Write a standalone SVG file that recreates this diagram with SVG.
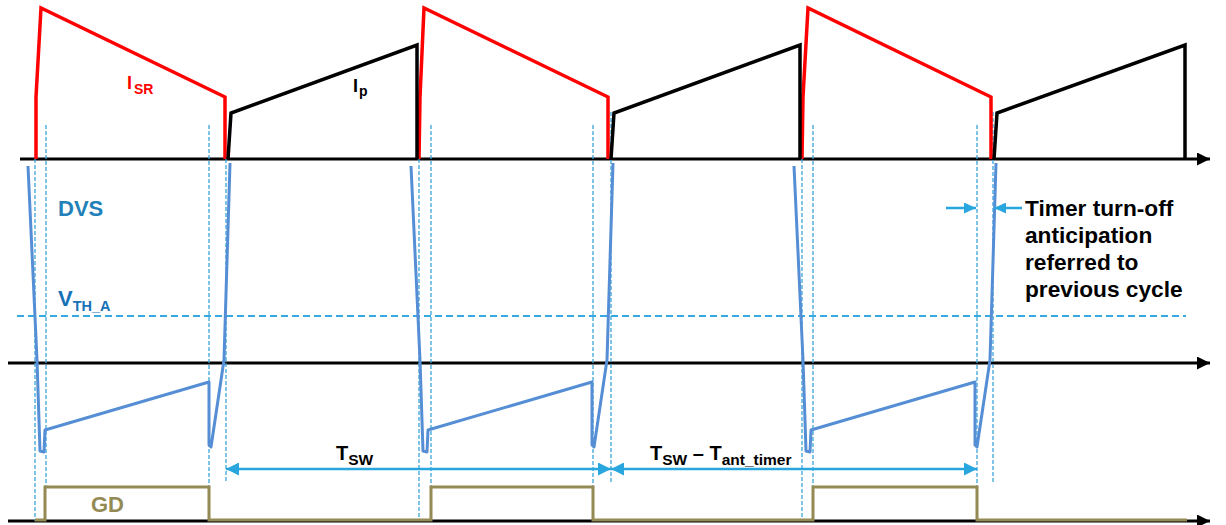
<svg xmlns="http://www.w3.org/2000/svg" width="1226" height="525" viewBox="0 0 1226 525">
<defs>
<style>
.axis{stroke:#000;stroke-width:3;fill:none}
.isr{stroke:#ff0000;stroke-width:3.5;fill:none;stroke-linejoin:miter}
.ip{stroke:#000;stroke-width:3.5;fill:none;stroke-linejoin:miter}
.dvs{stroke:#558ed5;stroke-width:3;fill:none;stroke-linejoin:round}
.gd{stroke:#948a54;stroke-width:3;fill:none}
.vd{stroke:#3aa6dc;stroke-width:1.3;stroke-dasharray:4 2;fill:none}
.th{stroke:#35a9e0;stroke-width:2;stroke-dasharray:7 4;fill:none}
.arr{stroke:#2aa6de;stroke-width:2.5;fill:none}
text{font-family:"Liberation Sans",Arial,sans-serif;font-weight:bold}
</style>
<marker id="ah" markerUnits="userSpaceOnUse" viewBox="0 0 13 13" refX="13" refY="6.5" markerWidth="13" markerHeight="13" orient="auto">
<path d="M0,0 L13,6.5 L0,13 z" fill="#000"/>
</marker>
<marker id="bh" markerUnits="userSpaceOnUse" viewBox="0 0 13 13" refX="13" refY="6.5" markerWidth="13" markerHeight="13" orient="auto-start-reverse">
<path d="M0,0 L13,6.5 L0,13 z" fill="#2aa6de"/>
</marker>
<marker id="sh" markerUnits="userSpaceOnUse" viewBox="0 0 12 11" refX="12" refY="5.5" markerWidth="12" markerHeight="11" orient="auto">
<path d="M0,0 L12,5.5 L0,11 z" fill="#2aa6de"/>
</marker>
</defs>

<g id="axes">
<line class="axis" x1="20" y1="159" x2="1210" y2="159" marker-end="url(#ah)"/>
<line class="axis" x1="8" y1="363" x2="1210" y2="363" marker-end="url(#ah)"/>
<line class="axis" x1="8" y1="521" x2="1210" y2="521" marker-end="url(#ah)"/>
</g>

<g id="vdashes">
<line class="vd" x1="35" y1="159" x2="35" y2="521"/>
<line class="vd" x1="46" y1="125" x2="46" y2="487"/>
<line class="vd" x1="209" y1="125" x2="209" y2="521"/>
<line class="vd" x1="226" y1="159" x2="226" y2="482"/>
<line class="vd" x1="419" y1="159" x2="419" y2="521"/>
<line class="vd" x1="431" y1="125" x2="431" y2="487"/>
<line class="vd" x1="593" y1="125" x2="593" y2="521"/>
<line class="vd" x1="611" y1="112" x2="611" y2="482"/>
<line class="vd" x1="802" y1="159" x2="802" y2="521"/>
<line class="vd" x1="813" y1="125" x2="813" y2="487"/>
<line class="vd" x1="977" y1="125" x2="977" y2="521"/>
<line class="vd" x1="993" y1="112" x2="993" y2="482"/>
</g>

<g id="vth">
<line class="th" x1="17" y1="316" x2="1186" y2="316"/>
</g>

<g id="isr">
<path class="isr" d="M36,159 L36,97 L41,8 L225,97 L225,159"/>
<path class="isr" d="M419,159 L420,97 L424,8 L608,97 L608,159"/>
<path class="isr" d="M802,159 L803,97 L808,8 L991,97 L991,159"/>
</g>

<g id="ip">
<path class="ip" d="M228,159 L231,113 L417,45 L417,159"/>
<path class="ip" d="M611,159 L614,113 L800,45 L800,159"/>
<path class="ip" d="M994,159 L997,113 L1185,45 L1185,159"/>
</g>

<g id="dvs">
<path class="dvs" d="M28,166 L37,360 L40,451 L44,452 L45,430 L209,382 L209,445 L211,447 L224,360 L230,163"/>
<path class="dvs" transform="translate(383,0)" d="M28,166 L37,360 L40,451 L44,452 L45,430 L209,382 L209,445 L211,447 L224,360 L230,163"/>
<path class="dvs" transform="translate(766,0)" d="M28,166 L37,360 L40,451 L44,452 L45,430 L209,382 L209,445 L211,447 L224,360 L230,163"/>
</g>

<g id="gd">
<path class="gd" d="M35,520 L45,520 L45,487 L209,487 L209,520 L431,520 L431,487 L593,487 L593,520 L813,520 L813,487 L977,487 L977,520 L1187,520"/>
</g>

<g id="connectors">
<line class="arr" x1="226" y1="469" x2="611" y2="469" marker-start="url(#bh)" marker-end="url(#bh)"/>
<line class="arr" x1="611" y1="469" x2="977" y2="469" marker-start="url(#bh)" marker-end="url(#bh)"/>
<line class="arr" x1="946" y1="208" x2="976" y2="208" marker-end="url(#sh)"/>
<line class="arr" x1="1022" y1="208" x2="994" y2="208" marker-end="url(#sh)"/>
</g>

<g id="labels">
<text x="127" y="89" font-size="18" fill="#ff0000">I<tspan font-size="14" dx="2" dy="5">SR</tspan></text>
<text x="353" y="92" font-size="18" fill="#000">I<tspan font-size="14" dx="1" dy="4">p</tspan></text>
<text x="58" y="216" font-size="22" fill="#2281b8">DVS</text>
<text x="58" y="306" font-size="22" fill="#1872b8">V<tspan font-size="14.5" dy="5">TH_A</tspan></text>
<text x="336" y="460" font-size="20" fill="#000">T<tspan font-size="15.5" dy="5">SW</tspan></text>
<text x="650" y="460" font-size="20" fill="#000">T<tspan font-size="15.5" dy="5">SW</tspan><tspan dy="-5"> – T</tspan><tspan font-size="15.5" dy="5">ant_timer</tspan></text>
<text x="91" y="512" font-size="22" fill="#948a54">GD</text>
<text font-size="22.7" fill="#000"><tspan x="1025" y="216">Timer turn-off</tspan><tspan x="1025" y="243">anticipation</tspan><tspan x="1025" y="270">referred to</tspan><tspan x="1025" y="297">previous cycle</tspan></text>
</g>
</svg>
